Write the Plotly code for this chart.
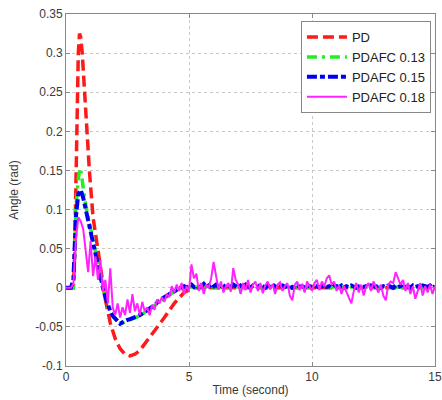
import plotly.graph_objects as go

# ---------------- data ----------------
pd_t = [0, 0.3, 0.35, 0.4, 0.45, 0.5, 0.55, 0.6, 0.66, 0.8, 0.95, 1.1, 1.3, 1.45, 1.6, 1.8,
        2.0, 2.2, 2.4, 2.6, 2.8, 3.0, 3.3, 3.6, 4.0, 4.4, 4.8, 5.2, 15]
pd_v = [0, 0, 0.04, 0.13, 0.23, 0.30, 0.325, 0.32, 0.30, 0.22, 0.15, 0.09, 0.05, 0.02, -0.015, -0.045,
        -0.065, -0.078, -0.085, -0.087, -0.085, -0.08, -0.068, -0.055, -0.038, -0.02, -0.006, 0.0, 0.0]

g13_t = [0, 0.3, 0.35, 0.4, 0.5, 0.58, 0.65, 0.75, 0.9, 1.1, 1.3, 1.5, 1.7, 1.9, 2.1, 2.3,
         2.6, 3.0, 3.5, 4.0, 4.5, 5.0, 15]
g13_v = [0, 0, 0.04, 0.10, 0.14, 0.153, 0.14, 0.115, 0.09, 0.06, 0.032, 0.002, -0.024, -0.036, -0.043, -0.045,
         -0.041, -0.036, -0.025, -0.013, -0.003, 0.001, 0.001]

# sampled every 0.1 s from 0 to 15 s
b15_v = [0, 0, 0, 0.01, 0.09, 0.12, 0.125, 0.115, 0.1, 0.085,
         0.07, 0.06, 0.045, 0.03, 0.015, 0.0, -0.012, -0.022, -0.03, -0.036,
         -0.04, -0.044, -0.046, -0.044, -0.042, -0.041, -0.04, -0.039, -0.037, -0.036,
         -0.035, -0.033, -0.031, -0.029, -0.027, -0.024, -0.022, -0.019, -0.016, -0.014,
         -0.012, -0.01, -0.008, -0.006, -0.004, -0.002, 0.0, 0.001, 0.002, 0.0,
         0.002, 0.004, 0.001, 0.003, 0.0, 0.002, 0.005, 0.001, 0.003, -0.001,
         0.002, 0.004, 0.001, 0.003, 0.0, 0.004, 0.002, 0.001, 0.004, 0.002,
         0.0, 0.003, 0.001, 0.004, 0.002, 0.0, 0.003, 0.002, 0.001, 0.004,
         0.002, 0.0, 0.003, 0.001, 0.004, 0.002, 0.0, 0.002, 0.003, 0.001,
         0.002, 0.004, 0.0, 0.002, 0.003, 0.001, 0.002, 0.0, 0.003, 0.002,
         0.001, 0.003, 0.002, 0.0, 0.002, 0.004, 0.001, 0.002, 0.0, 0.003,
         0.002, 0.001, 0.003, 0.0, 0.002, 0.001, 0.003, 0.002, 0.0, 0.002,
         0.003, 0.001, 0.002, 0.0, 0.003, 0.002, 0.001, 0.003, 0.0, 0.002,
         0.001, 0.003, 0.002, 0.0, 0.003, 0.001, 0.002, 0.004, 0.001, 0.002,
         0.0, 0.003, 0.001, 0.002, 0.0, 0.003, 0.002, 0.001, 0.003, 0.0,
         0.002]

m18_v = [0, 0, 0, 0.005, 0.06, 0.09, 0.085, 0.075, 0.05, 0.02,
         0.06, 0.015, 0.04, 0.01, 0.035, -0.005, 0.01, -0.02, 0.025, -0.025,
         -0.035, -0.02, -0.038, -0.025, -0.035, -0.015, -0.032, -0.008, -0.03, -0.02,
         -0.035, -0.018, -0.03, -0.025, -0.035, -0.022, -0.028, -0.015, -0.02, -0.012,
         -0.018, -0.008, -0.012, 0.002, -0.006, 0.004, -0.004, 0.006, -0.008, 0.002,
         -0.004, 0.03, 0.012, 0.018, -0.004, 0.006, -0.008, 0.004, 0.0, 0.012,
         0.033, 0.015, -0.002, 0.008, -0.006, 0.002, 0.006, -0.005, 0.025, 0.01,
         0.004, -0.008, 0.006, -0.003, 0.01, -0.006, 0.004, 0.008, -0.004, 0.006,
         -0.007, 0.003, 0.008, -0.002, 0.005, -0.008, 0.004, 0.007, -0.004, 0.002,
         0.006, -0.01, -0.016, 0.004, 0.008, -0.003, 0.005, -0.006, 0.008, 0.002,
         -0.004, 0.006, 0.01, -0.003, 0.008, 0.002, 0.012, 0.016, 0.004, 0.008,
         -0.004, 0.003, -0.008, 0.002, -0.006, -0.012, -0.02, -0.004, 0.006, -0.006,
         0.004, -0.01, 0.002, 0.006, -0.004, 0.008, 0.002, -0.006, 0.004, -0.01,
         -0.016, 0.004, 0.008, 0.006, 0.02, 0.012, 0.004, 0.01, -0.004, 0.006,
         -0.008, 0.002, -0.014, -0.004, 0.006, -0.01, 0.002, -0.006, 0.004, -0.008,
         0.002]

sample_step = 0.1
b15_t = [round(i * sample_step, 1) for i in range(len(b15_v))]
m18_t = [round(i * sample_step, 1) for i in range(len(m18_v))]

y_ticks = [0.35, 0.3, 0.25, 0.2, 0.15, 0.1, 0.05, 0, -0.05, -0.1]
y_labels = ["0.35", "0.3", "0.25", "0.2", "0.15", "0.1", "0.05", "0", "-0.05", "-0.1"]
x_ticks = [0, 5, 10, 15]
x_labels = ["0", "5", "10", "15"]

# ---------------- figure ----------------
FONT = "Liberation Sans, Arial, sans-serif"
TXT = "#3a3a3a"
fig = go.Figure()
fig.add_trace(go.Scatter(x=pd_t, y=pd_v, mode="lines", name="PD",
                         line=dict(color="#ff1a1a", width=3.5, dash="11px,5px")))
fig.add_trace(go.Scatter(x=g13_t, y=g13_v, mode="lines", name="PDAFC 0.13",
                         line=dict(color="#22ee22", width=3.5, dash="10px,5px,3px,5px")))
fig.add_trace(go.Scatter(x=b15_t, y=b15_v, mode="lines", name="PDAFC 0.15",
                         line=dict(color="#0000ee", width=4, dash="10px,3px,5px,3px")))
fig.add_trace(go.Scatter(x=m18_t, y=m18_v, mode="lines", name="PDAFC 0.18",
                         line=dict(color="#ff22ff", width=2)))

axis_common = dict(showline=True, linecolor="#888888", linewidth=1, mirror="ticks",
                   ticks="inside", ticklen=4, tickcolor="#888888",
                   showgrid=True, gridcolor="#c8c8c8", griddash="dot", gridwidth=1,
                   zeroline=False, automargin=False,
                   tickfont=dict(family=FONT, size=12, color=TXT))

fig.update_xaxes(range=[0, 15], tickvals=x_ticks, ticktext=x_labels,
                 title=dict(text="Time (second)", standoff=2,
                            font=dict(family=FONT, size=12, color=TXT)),
                 **axis_common)
fig.update_yaxes(range=[-0.1, 0.35], tickvals=y_ticks, ticktext=y_labels,
                 title=dict(text="Angle (rad)", standoff=14,
                            font=dict(family=FONT, size=12, color=TXT)),
                 **axis_common)

fig.update_layout(
    width=442, height=400,
    margin=dict(l=66, r=7, t=14, b=34),
    paper_bgcolor="white", plot_bgcolor="white",
    font=dict(family=FONT, size=12, color=TXT),
    legend=dict(x=0.989, y=0.98, xanchor="right", yanchor="top",
                bgcolor="white", bordercolor="#888888", borderwidth=1,
                font=dict(size=13, color="#222222"), tracegroupgap=0,
                itemwidth=40),
    showlegend=True,
)

fig.write_html("out.html", config={"displayModeBar": False},
               post_script="document.body.style.margin='0';document.body.style.overflow='hidden';")
